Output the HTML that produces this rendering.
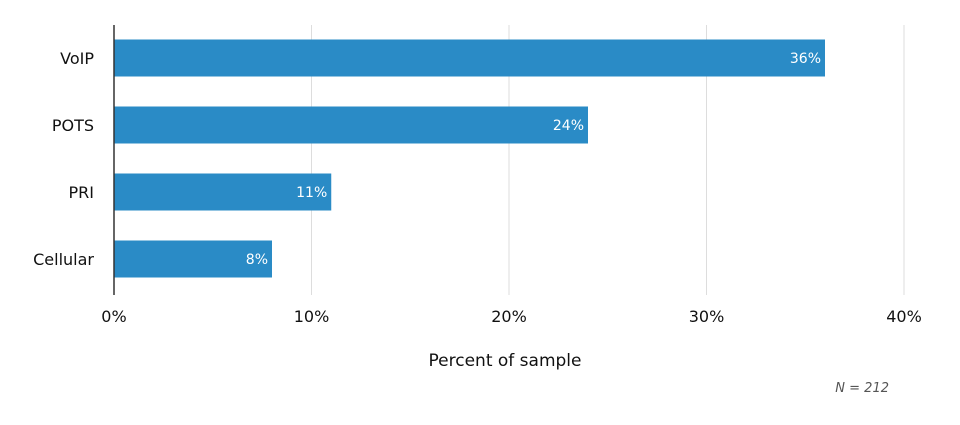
<!DOCTYPE html>
<html><head><meta charset="utf-8"><style>
html,body{margin:0;padding:0;background:#fff;}
svg{display:block;font-family:"DejaVu Sans","Liberation Sans",sans-serif;}
</style></head><body>
<svg id="chart" width="960" height="425" viewBox="0 0 960 425" xmlns="http://www.w3.org/2000/svg"></svg>
<script>
const categories = ["VoIP", "POTS", "PRI", "Cellular"];
const values = [36, 24, 11, 8];
const tickValues = [0, 10, 20, 30, 40];
const tickLabels = ["0%", "10%", "20%", "30%", "40%"];

const NS = "http://www.w3.org/2000/svg";
const svg = document.getElementById("chart");
const x0 = 114, x1 = 904, y0 = 25, y1 = 293, xMax = 40;
const xScale = v => x0 + (v / xMax) * (x1 - x0);
const band = (y1 - y0) / categories.length;
const barH = 37;
const yCenter = i => y0 + band * (i + 0.5) - 0.5;

function mk(tag, attrs, text) {
  const e = document.createElementNS(NS, tag);
  for (const k in attrs) e.setAttribute(k, attrs[k]);
  if (text !== undefined) e.textContent = text;
  svg.appendChild(e);
  return e;
}

tickValues.forEach((t, i) => {
  if (t !== 0) {
    const g = mk("line", {x1: xScale(t), x2: xScale(t), y1: y0, y2: y1 + 2, stroke: "#dddddd", "stroke-width": 1});
    
    
  }
  const tl = mk("text", {x: xScale(t), y: 322, "text-anchor": "middle", "font-size": 16, fill: "#111"}, tickLabels[i]);
  
  
});

categories.forEach((c, i) => {
  const cy = yCenter(i);
  const r = mk("rect", {x: x0, y: cy - barH / 2, width: xScale(values[i]) - x0, height: barH, fill: "#2a8bc6"});
  
  
  const l = mk("text", {x: 94, y: cy + 6, "text-anchor": "end", "font-size": 16, fill: "#111"}, c);
  
  
  const v = mk("text", {x: xScale(values[i]) - 4, y: cy + 5, "text-anchor": "end", "font-size": 14, fill: "#fff"}, values[i] + "%");
  
  
});

const ax = mk("line", {x1: x0, x2: x0, y1: y0, y2: y1 + 2, stroke: "#333", "stroke-width": 1.5});



const at = mk("text", {x: 505, y: 366, "text-anchor": "middle", "font-size": 17, fill: "#111"}, "Percent of sample");



const n = mk("text", {x: 889, y: 392, "text-anchor": "end", "font-size": 13, "font-style": "italic", fill: "#555"}, "N = 212");


</script>
</body></html>
